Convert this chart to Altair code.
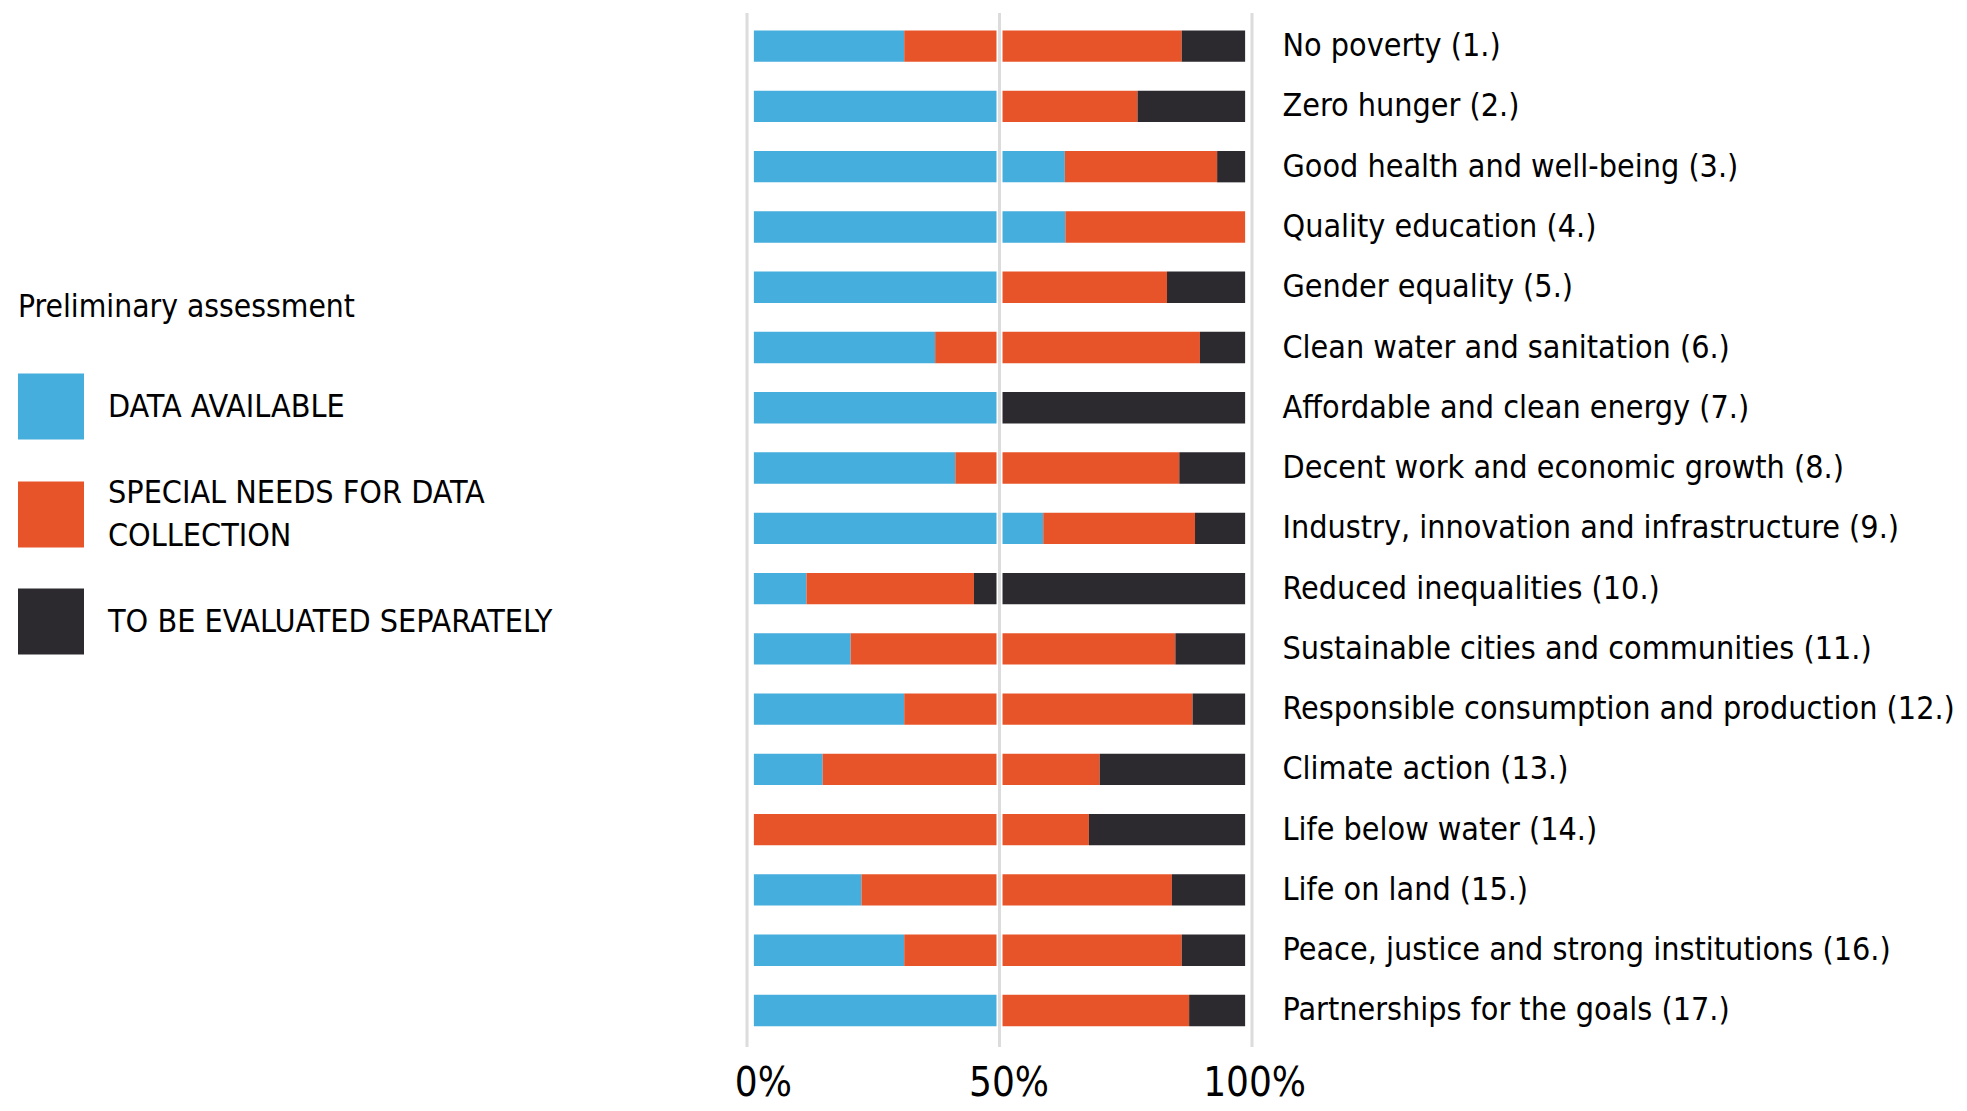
import altair as alt
import pandas as pd

goals = [
    "No poverty (1.)",
    "Zero hunger (2.)",
    "Good health and well-being (3.)",
    "Quality education (4.)",
    "Gender equality (5.)",
    "Clean water and sanitation (6.)",
    "Affordable and clean energy (7.)",
    "Decent work and economic growth (8.)",
    "Industry, innovation and infrastructure (9.)",
    "Reduced inequalities (10.)",
    "Sustainable cities and communities (11.)",
    "Responsible consumption and production (12.)",
    "Climate action (13.)",
    "Life below water (14.)",
    "Life on land (15.)",
    "Peace, justice and strong institutions (16.)",
    "Partnerships for the goals (17.)",
]
data_available = [30.6, 50.0, 63.3, 63.4, 50.0, 36.9, 50.0, 41.0, 58.9, 10.7, 19.7, 30.6, 14.0, 0.0, 21.9, 30.6, 50.0]
special_needs = [56.5, 28.1, 31.0, 36.6, 34.1, 53.9, 0.0, 45.6, 30.9, 34.1, 66.1, 58.7, 56.4, 68.2, 63.2, 56.5, 38.6]
separately = [12.9, 21.9, 5.7, 0.0, 15.9, 9.2, 50.0, 13.4, 10.2, 55.2, 14.2, 10.7, 29.6, 31.8, 14.9, 12.9, 11.4]

categories = ["DATA AVAILABLE", "SPECIAL NEEDS FOR DATA COLLECTION", "TO BE EVALUATED SEPARATELY"]
colors = ["#45AEDC", "#E8542A", "#2D2A2F"]
x_ticks = [0, 50, 100]
x_domain = [-1.4, 101.4]

rows = []
for i, g in enumerate(goals):
    for k, (cat, vals) in enumerate(zip(categories, [data_available, special_needs, separately])):
        rows.append({"goal": g, "category": cat, "value": vals[i], "order": k})
df = pd.DataFrame(rows)

W, H = 505, 1034
FONT = "DejaVu Sans Condensed, DejaVu Sans, sans-serif"

x_scale = alt.Scale(domain=x_domain, nice=False, zero=False)

bars = alt.Chart(df).mark_bar().encode(
    x=alt.X(
        "value:Q",
        stack="zero",
        scale=x_scale,
        axis=alt.Axis(
            values=x_ticks,
            labelExpr="datum.value + '%'",
            grid=False,
            domain=False,
            ticks=False,
            labelFontSize=40,
            labelFont=FONT,
            labelColor="black",
            labelPadding=16,
            labelOffset=9,
            title=None,
        ),
    ),
    y=alt.Y(
        "goal:N",
        sort=goals,
        scale=alt.Scale(paddingInner=0.48, paddingOuter=0.318, align=0.456),
        axis=alt.Axis(
            orient="right",
            title=None,
            domain=False,
            ticks=False,
            labelFontSize=32,
            labelFont=FONT,
            labelColor="black",
            labelPadding=30,
            labelLimit=1000,
        ),
    ),
    color=alt.Color(
        "category:N",
        scale=alt.Scale(domain=categories, range=colors),
        legend=alt.Legend(
            title="Preliminary assessment",
            orient="none",
            legendX=-729,
            legendY=279,
            direction="vertical",
            symbolType="square",
            symbolSize=4356,
            symbolStrokeWidth=0,
            symbolOpacity=1,
            titleFont=FONT,
            titleFontSize=31.5,
            titleFontWeight="normal",
            titleColor="black",
            titlePadding=50,
            titleLimit=600,
            labelFont=FONT,
            labelFontSize=32,
            labelColor="black",
            labelOffset=24,
            labelLimit=700,
            rowPadding=37,
            labelBaseline={"expr": "datum.value == 'SPECIAL NEEDS FOR DATA COLLECTION' ? 'line-bottom' : 'middle'"},
            labelExpr="datum.label == 'SPECIAL NEEDS FOR DATA COLLECTION' ? ['SPECIAL NEEDS FOR DATA', 'COLLECTION'] : datum.label",
        ),
    ),
    order=alt.Order("order:Q"),
)

grid_df = pd.DataFrame({"pos": [x_domain[0], 50, x_domain[1]]})
mid_df = pd.DataFrame({"pos": [50]})

white_sep = alt.Chart(mid_df).mark_rule(color="white", strokeWidth=6).encode(
    x=alt.X("pos:Q", scale=x_scale), y=alt.value(0), y2=alt.value(H)
)
grid = alt.Chart(grid_df).mark_rule(color="#DCDCDC", strokeWidth=3).encode(
    x=alt.X("pos:Q", scale=x_scale), y=alt.value(0), y2=alt.value(H)
)

chart = alt.layer(bars, white_sep, grid).properties(
    width=W,
    height=H,
    padding={"left": 10, "top": 2, "right": 0, "bottom": 0},
).configure(
    style={"guide-label": {"lineHeight": 43}},
    view=alt.ViewConfig(stroke=None),
)

chart.save("out.html", embed_options={"renderer": "svg", "actions": False})
